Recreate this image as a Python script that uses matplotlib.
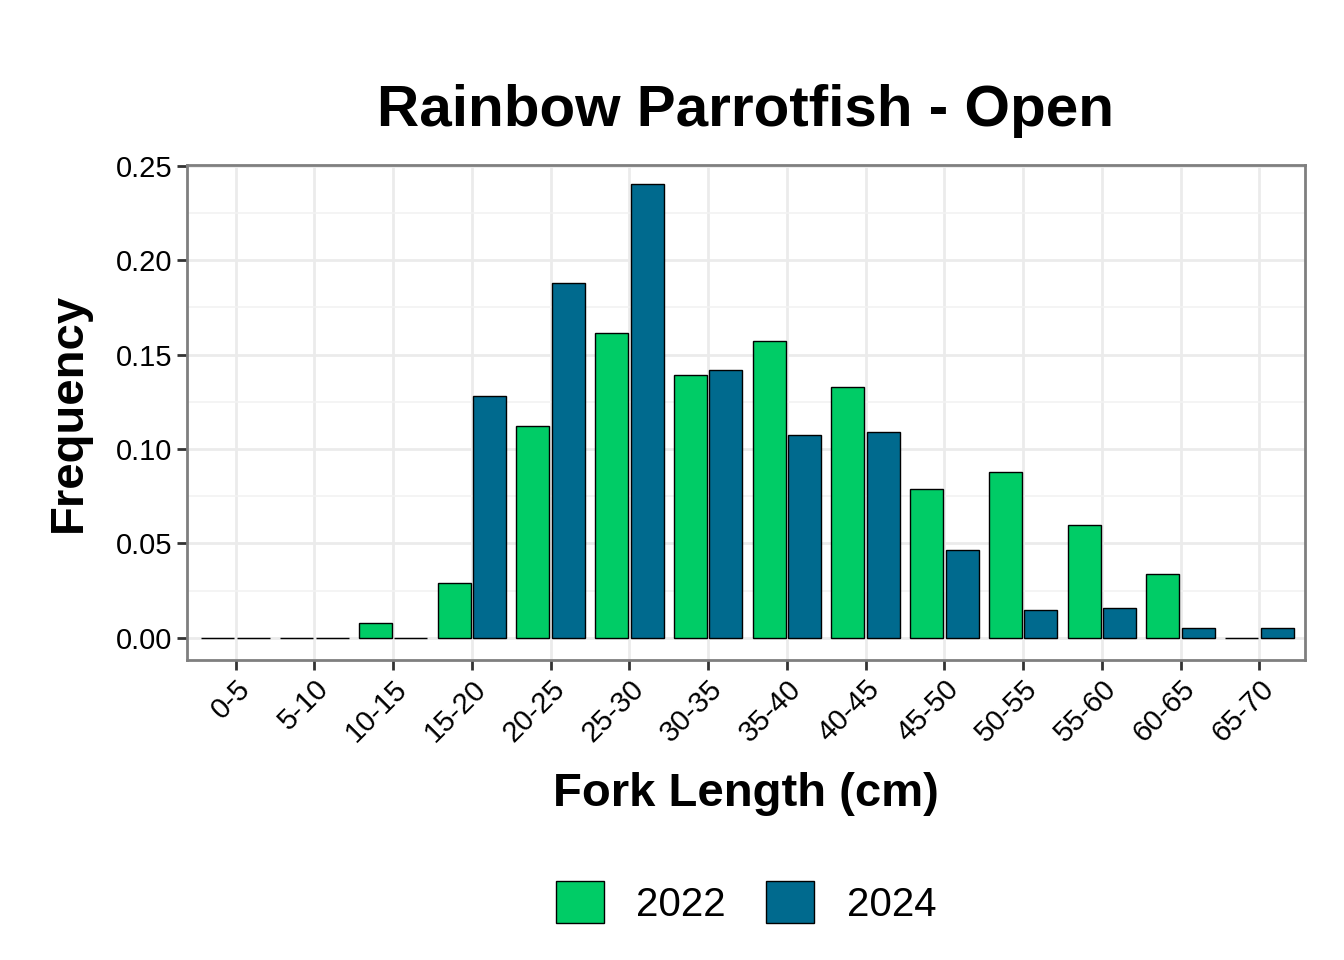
import matplotlib
matplotlib.use("Agg")
import matplotlib.pyplot as plt
import numpy as np

categories = ["0-5","5-10","10-15","15-20","20-25","25-30","30-35","35-40","40-45","45-50","50-55","55-60","60-65","65-70"]
freq_2022 = [0,0,0.008,0.029,0.112,0.1615,0.139,0.157,0.133,0.079,0.088,0.060,0.034,0]
freq_2024 = [0,0,0,0.128,0.188,0.240,0.142,0.1075,0.109,0.0466,0.015,0.016,0.005,0.005]

plt.rcParams['font.family'] = ['Liberation Sans', 'DejaVu Sans']
fig = plt.figure(figsize=(13.44, 9.6), dpi=100)
ax = fig.add_axes([0.139, 0.3125, 0.832, 0.516])
x = np.arange(len(categories))
w = 0.42
ax.bar(x - 0.225, freq_2022, w, color="#00CC66", edgecolor="black", linewidth=1, label="2022", zorder=3)
ax.bar(x + 0.225, freq_2024, w, color="#006A8E", edgecolor="black", linewidth=1, label="2024", zorder=3)
ax.set_xlim(-0.62, 13.58)
ax.set_ylim(-0.0117, 0.2505)
ax.set_yticks([0, 0.05, 0.10, 0.15, 0.20, 0.25])
ax.set_yticklabels(["0.00","0.05","0.10","0.15","0.20","0.25"], fontsize=21)
ax.set_yticks(np.arange(0.025, 0.25, 0.05), minor=True)
ax.set_xticks(x)
ax.set_xticklabels(categories, rotation=45, ha="right", rotation_mode="anchor", fontsize=21)
ax.grid(True, which="major", color="#ebebeb", linewidth=2, zorder=0)
ax.grid(True, which="minor", axis="y", color="#f2f2f2", linewidth=1.2, zorder=0)
for s in ax.spines.values():
    s.set_color("#7f7f7f"); s.set_linewidth(2)
ax.tick_params(which="major", length=7, width=2, color="#333333")
ax.tick_params(which="minor", length=0)
ax.set_xlabel("Fork Length (cm)", fontsize=34, fontweight="bold", labelpad=18)
ax.set_ylabel("Frequency", fontsize=34, fontweight="bold", labelpad=18)
ax.set_title("Rainbow Parrotfish - Open", fontsize=42, fontweight="bold", pad=28)
fig.legend(loc="center", bbox_to_anchor=(0.555, 0.06), ncol=2, frameon=False, fontsize=29,
           handlelength=1.2, handleheight=1.2, columnspacing=1.0, handletextpad=0.8)
fig.savefig("out.png", dpi=100)
